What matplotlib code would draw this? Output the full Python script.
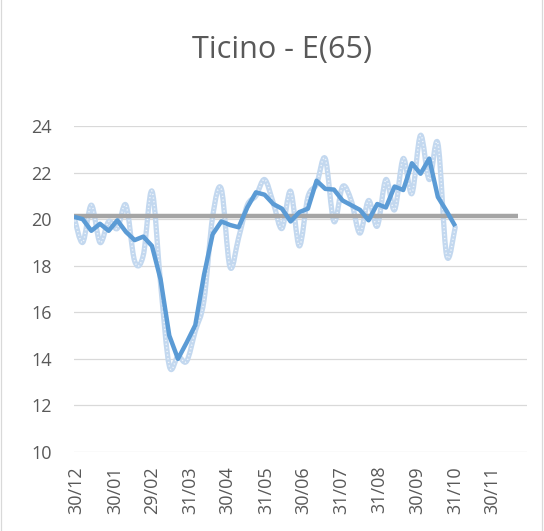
import numpy as np
import pandas as pd
import matplotlib
matplotlib.use("Agg")
import matplotlib.pyplot as plt
import matplotlib.dates as mdates
from matplotlib.path import Path
from matplotlib.patches import PathPatch
from matplotlib.lines import Line2D

plt.rcParams['font.family'] = ['Open Sans', 'DejaVu Sans']

title = "Ticino - E(65)"
week_start = "2019-12-28"
weekly_smooth = [20.1, 20.0, 19.5, 19.8, 19.5, 19.95, 19.45, 19.1, 19.25, 18.85,
                 17.4, 15.0, 14.0, 14.7, 15.45, 17.6, 19.35, 19.9, 19.75, 19.65,
                 20.5, 21.15, 21.05, 20.65, 20.45, 19.9, 20.3, 20.45, 21.65, 21.3,
                 21.27, 20.8, 20.6, 20.4, 19.95, 20.65, 20.5, 21.4, 21.25, 22.4,
                 21.95, 22.6, 20.95, 20.35, 19.7]
weekly_raw = [20.1, 19.0, 20.6, 19.0, 19.9, 19.6, 20.6, 18.2, 18.45, 21.2,
              17.2, 13.7, 14.1, 13.9, 15.2, 16.5, 20.1, 21.3, 17.95, 19.2,
              20.6, 21.0, 21.7, 20.7, 19.6, 21.2, 18.85, 20.95, 21.5, 22.6,
              19.9, 21.4, 20.8, 19.4, 20.8, 19.7, 21.7, 20.4, 22.6, 21.1,
              23.6, 21.7, 23.25, 18.45, 19.65]
baseline_dates = ["2019-12-28", "2020-12-21"]
baseline_value = 20.15
tick_dates = ["2019-12-30", "2020-01-30", "2020-02-29", "2020-03-31", "2020-04-30",
              "2020-05-31", "2020-06-30", "2020-07-31", "2020-08-31", "2020-09-30",
              "2020-10-31", "2020-11-30"]
tick_labels = ["30/12", "30/01", "29/02", "31/03", "30/04", "31/05", "30/06",
               "31/07", "31/08", "30/09", "31/10", "30/11"]
y_ticks = [10, 12, 14, 16, 18, 20, 22, 24]

dates = pd.date_range(week_start, periods=len(weekly_smooth), freq="7D")

W, H = 544, 531
fig = plt.figure(figsize=(W / 100, H / 100), dpi=100)
ax = fig.add_axes([74 / W, 1 - 452 / H, (527 - 74) / W, (452 - 126) / H])

# chart-area border (left and right edges visible)
for xp in (0.5, 541.5):
    fig.add_artist(Line2D([xp / W, xp / W], [0, 1], transform=fig.transFigure,
                          color="#D9D9D9", lw=0.9))

# grid
for yv in y_ticks:
    ax.axhline(yv, color="#D9D9D9", lw=0.9, zorder=1)

# smoothed raw series (Bezier, like Excel smoothing)
xn = mdates.date2num(dates)
yr = np.array(weekly_raw)
verts = [(xn[0], yr[0])]
codes = [Path.MOVETO]
n = len(xn)
for i in range(n - 1):
    p0 = (xn[max(i - 1, 0)], yr[max(i - 1, 0)])
    p1 = (xn[i], yr[i])
    p2 = (xn[i + 1], yr[i + 1])
    p3 = (xn[min(i + 2, n - 1)], yr[min(i + 2, n - 1)])
    c1 = (p1[0] + (p2[0] - p0[0]) / 6, p1[1] + (p2[1] - p0[1]) / 6)
    c2 = (p2[0] - (p3[0] - p1[0]) / 6, p2[1] - (p3[1] - p1[1]) / 6)
    verts += [c1, c2, p2]
    codes += [Path.CURVE4] * 3
path = Path(verts, codes)
ax.add_patch(PathPatch(path, facecolor="none", edgecolor="#C3D8EF", lw=3.8,
                       capstyle="round", joinstyle="round", zorder=2))
ax.add_patch(PathPatch(path, facecolor="none", edgecolor="#EEF4FB", lw=1.1,
                       linestyle=(0, (0.8, 1.6)), zorder=2.1))

# baseline
ax.plot(pd.to_datetime(baseline_dates), [baseline_value] * len(baseline_dates),
        color="#A5A5A5", lw=3.2, solid_capstyle="butt", zorder=3)

# weekly series
ax.plot(dates, weekly_smooth, color="#5B9BD5", lw=3.2, solid_joinstyle="round",
        solid_capstyle="butt", zorder=4)

ax.set_xlim(pd.Timestamp("2019-12-28"), pd.Timestamp("2020-12-28"))
ax.set_ylim(10, 24)
ax.set_yticks(y_ticks)
ax.set_yticklabels([str(v) for v in y_ticks], fontsize=13, color="#595959")
ax.set_xticks(pd.to_datetime(tick_dates))
ax.set_xticklabels(tick_labels, rotation=90, fontsize=13, color="#595959")
ax.tick_params(axis="y", length=0, pad=16)
ax.tick_params(axis="x", length=0, pad=10)
for s in ax.spines.values():
    s.set_visible(False)

fig.text(282.5 / W, 1 - 58 / H, title, ha="center", va="baseline",
         fontsize=22, color="#595959")

fig.savefig("out.png", dpi=100)
